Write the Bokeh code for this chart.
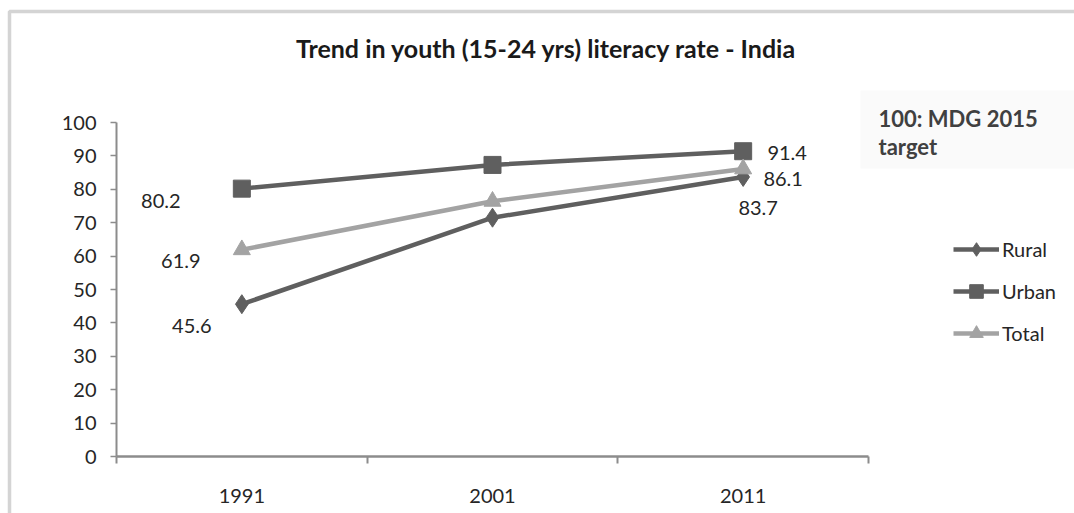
from bokeh.plotting import figure
from bokeh.models import (Range1d, LinearAxis, FixedTicker, Legend, LegendItem,
                          Label, BoxAnnotation, ColumnDataSource)
from bokeh.embed import file_html
from bokeh.resources import INLINE

# ---------------- data ----------------
title_text = "Trend in youth (15-24 yrs) literacy rate - India"
years = ["1991", "2001", "2011"]
rural = [45.6, 71.5, 83.7]
urban = [80.2, 87.3, 91.4]
total = [61.9, 76.4, 86.1]
series_names = ["Rural", "Urban", "Total"]
y_ticks = [0, 10, 20, 30, 40, 50, 60, 70, 80, 90, 100]
note_lines = ["100: MDG 2015", "target"]

# ---------------- layout (pixels) ----------------
W, H = 1074, 513
PL, PR, PT, PB = 116, 868, 122, 456
n = len(years)
ymax = y_ticks[-1]
xs = (PR - PL) / n
ys = (PB - PT) / ymax
x0, x1 = -PL / xs, n + (W - PR) / xs
y1, y0 = ymax + PT / ys, -(H - PB) / ys


def px2x(px):
    return x0 + px / xs


def py2y(py):
    return y1 - py / ys


FONT = "Lato"
DARK = "#5f5f5f"
LIGHT = "#a3a3a3"
TXT = "#262626"

p = figure(width=W, height=H, x_range=Range1d(x0, x1), y_range=Range1d(y0, y1),
           x_axis_type=None, y_axis_type=None, toolbar_location=None,
           output_backend="svg", min_border=0, outline_line_color=None)
p.background_fill_color = "white"
p.border_fill_color = "white"

# frame border and note box
p.add_layout(BoxAnnotation(left=px2x(9), right=px2x(W + 20), top=py2y(11), bottom=py2y(H + 20),
                           fill_color=None, line_color="#6f6f6f", line_width=3.5))
p.add_layout(BoxAnnotation(left=px2x(860), right=px2x(W + 5), top=py2y(90), bottom=py2y(168),
                           fill_color="#f2f2f2", line_color=None))

# axes
yax = LinearAxis(fixed_location=0, bounds=(0, ymax), ticker=FixedTicker(ticks=y_ticks),
                 axis_line_color="#8c8c8c", axis_line_width=2,
                 major_tick_line_color="#8c8c8c", major_tick_line_width=1.5,
                 major_tick_in=0, major_tick_out=6, minor_tick_line_color=None,
                 major_label_standoff=14, major_label_text_font=FONT,
                 major_label_text_font_size="20px", major_label_text_color=TXT)
p.add_layout(yax, "left")

xax = LinearAxis(fixed_location=0, bounds=(0, n), ticker=FixedTicker(ticks=list(range(n + 1))),
                 major_label_overrides={i: "" for i in range(n + 1)},
                 axis_line_color="#8c8c8c", axis_line_width=2.5,
                 major_tick_line_color="#8c8c8c", major_tick_line_width=2,
                 major_tick_in=0, major_tick_out=7, minor_tick_line_color=None)
p.add_layout(xax, "below")

centers = [i + 0.5 for i in range(n)]
xlab = LinearAxis(fixed_location=0, ticker=FixedTicker(ticks=centers),
                  major_label_overrides={c: y for c, y in zip(centers, years)},
                  axis_line_color=None, major_tick_line_color=None, minor_tick_line_color=None,
                  major_label_standoff=26, major_label_text_font=FONT,
                  major_label_text_font_size="20px", major_label_text_color=TXT)
p.add_layout(xlab, "below")

src = ColumnDataSource(dict(x=centers, Rural=rural, Urban=urban, Total=total))

styles = {
    "Rural": dict(color=DARK, marker="diamond", size=19),
    "Urban": dict(color=DARK, marker="square", size=17),
    "Total": dict(color=LIGHT, marker="triangle", size=17),
}

items = []
for name in series_names:
    st = styles[name]
    ln = p.line("x", name, source=src, line_color=st["color"], line_width=4.5)
    mk = p.scatter("x", name, source=src, marker=st["marker"], size=st["size"],
                   fill_color=st["color"], line_color=st["color"])
    items.append(LegendItem(label=name, renderers=[ln, mk]))

legend = Legend(items=items, location=(953, H - 350), orientation="vertical",
                glyph_width=46, glyph_height=34, label_height=34, spacing=8,
                label_standoff=3, padding=0, margin=0, border_line_color=None,
                background_fill_alpha=0, label_text_font=FONT,
                label_text_font_size="20px", label_text_color=TXT)
p.add_layout(legend)

# data labels (first and last point), offsets in pixels
label_offsets = {
    ("Urban", 0): (-81, -12), ("Total", 0): (-61, -11), ("Rural", 0): (-50, -22),
    ("Urban", n - 1): (44, -2), ("Total", n - 1): (40, -10), ("Rural", n - 1): (15, -31),
}
vals = {"Rural": rural, "Urban": urban, "Total": total}
for (name, i), (dx, dy) in label_offsets.items():
    p.add_layout(Label(x=centers[i], y=vals[name][i], x_offset=dx, y_offset=dy,
                       text=f"{vals[name][i]}", text_align="center", text_baseline="middle",
                       text_font=FONT, text_font_size="20px", text_color=TXT))

# title
p.add_layout(Label(x=px2x(546), y=py2y(47), text=title_text, text_align="center",
                   text_baseline="middle", text_font=FONT, text_font_size="25px",
                   text_font_style="bold", text_color="#1a1a1a"))

# note
for k, line in enumerate(note_lines):
    p.add_layout(Label(x=px2x(878), y=py2y(118 + 28 * k), text=line, text_align="left",
                       text_baseline="middle", text_font=FONT, text_font_size="22px",
                       text_font_style="bold", text_color="#404040"))

open("out.html", "w").write(file_html(p, INLINE))
